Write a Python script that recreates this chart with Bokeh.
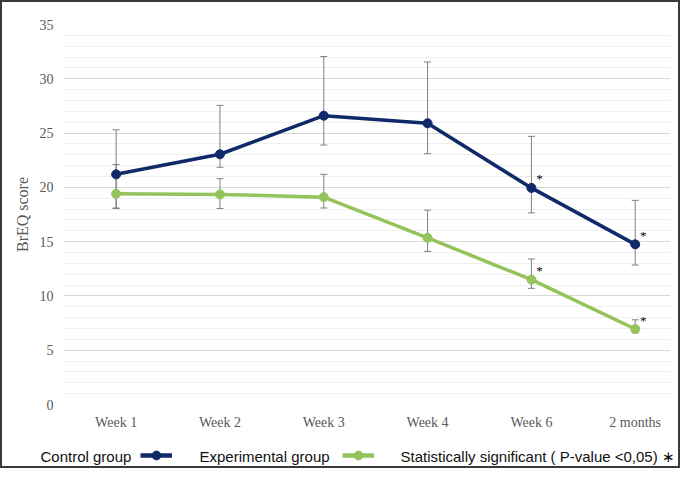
from bokeh.plotting import figure
from bokeh.layouts import column
from bokeh.models import (ColumnDataSource, Range1d, FixedTicker, SingleIntervalTicker,
                          Whisker, TeeHead, Label, Legend, LegendItem)
from bokeh.core.properties import value
from bokeh.embed import file_html
from bokeh.resources import INLINE

# ---- data ----
categories = ["Week 1", "Week 2", "Week 3", "Week 4", "Week 6", "2 months"]
control = [21.2, 23.05, 26.6, 25.9, 19.95, 14.75]
control_upper = [25.3, 27.55, 32.05, 31.55, 24.7, 18.8]
control_lower = [18.1, 21.85, 23.9, 23.1, 17.65, 12.85]
experimental = [19.4, 19.35, 19.1, 15.35, 11.5, 6.95]
experimental_upper = [22.1, 20.8, 21.2, 17.9, 13.4, 7.8]
experimental_lower = [18.05, 18.05, 18.1, 14.1, 10.7, 6.6]
significant = [False, False, False, False, True, True]
legend_labels = ["Control group", "Experimental group",
                 "Statistically significant ( P-value <0,05) \u2217"]

NAVY = "#102a69"
GREEN = "#94c35c"
GRAY = "#595959"
ERR = "#808080"
SERIF = "Liberation Serif"
SANS = "Liberation Sans"

xs = list(range(len(categories)))
ctrl_src = ColumnDataSource(dict(x=xs, y=control, upper=control_upper, lower=control_lower))
exp_src = ColumnDataSource(dict(x=xs, y=experimental, upper=experimental_upper, lower=experimental_lower))

star_x, star_y = [], []
for series in (control, experimental):
    for i, (v, s) in enumerate(zip(series, significant)):
        if s:
            star_x.append(i)
            star_y.append(v)
star_src = ColumnDataSource(dict(x=star_x, y=star_y, t=["*"] * len(star_x)))

# ---------------- main chart ----------------
p = figure(width=676, height=430, output_backend="svg", toolbar_location=None,
           x_range=Range1d(-0.507, 5.34), y_range=Range1d(0, 35),
           frame_width=607, frame_height=380,
           min_border_left=61, min_border_right=8, min_border_top=22, min_border_bottom=28)
p.frame_align = False
p.outline_line_color = None
p.background_fill_color = "white"
p.border_fill_color = "white"

p.xgrid.grid_line_color = None
p.ygrid.grid_line_color = "#d9d9d9"
p.ygrid.minor_grid_line_color = "#efefef"

p.yaxis.ticker = SingleIntervalTicker(interval=5, num_minor_ticks=5)
p.xaxis.ticker = FixedTicker(ticks=xs)
p.xaxis.major_label_overrides = {i: c for i, c in zip(xs, categories)}
for ax in (p.xaxis, p.yaxis):
    ax.axis_line_color = None
    ax.major_tick_line_color = None
    ax.minor_tick_line_color = None
    ax.major_tick_out = 0
    ax.minor_tick_out = 0
    ax.major_label_text_font = SERIF
    ax.major_label_text_font_size = "14px"
    ax.major_label_text_color = GRAY
    ax.major_label_standoff = 10
p.yaxis.axis_label = "BrEQ score"
p.yaxis.axis_label_text_font = SERIF
p.yaxis.axis_label_text_font_style = "normal"
p.yaxis.axis_label_text_font_size = "16px"
p.yaxis.axis_label_text_color = GRAY
p.yaxis.axis_label_standoff = 6

for src in (ctrl_src, exp_src):
    p.add_layout(Whisker(source=src, base="x", upper="upper", lower="lower",
                         line_color=ERR, line_width=1, level="underlay",
                         upper_head=TeeHead(size=7, line_color=ERR, line_width=1),
                         lower_head=TeeHead(size=7, line_color=ERR, line_width=1)))

p.line("x", "y", source=exp_src, line_color=GREEN, line_width=3.5)
p.scatter("x", "y", source=exp_src, size=9, fill_color=GREEN, line_color=GREEN)
p.line("x", "y", source=ctrl_src, line_color=NAVY, line_width=3.5)
p.scatter("x", "y", source=ctrl_src, size=9, fill_color=NAVY, line_color=NAVY)

p.text("x", "y", text="t", source=star_src, x_offset=8, y_offset=-9,
       text_align="center", text_baseline="middle", text_color="black",
       text_font=value(SERIF), text_font_size="13px")

# ---------------- legend strip (text followed by swatch) ----------------
lg = figure(width=676, height=34, output_backend="svg", toolbar_location=None,
            x_range=Range1d(0, 1), y_range=Range1d(0, 1),
            x_axis_type=None, y_axis_type=None,
            min_border_left=0, min_border_right=0, min_border_top=0, min_border_bottom=0)
lg.frame_align = False
lg.outline_line_color = None
lg.grid.visible = False
lg.background_fill_color = "white"
lg.border_fill_color = "white"

# swatch renderers (their points lie outside the strip's visible range)
sw_ctrl = [lg.line([5, 6], [5, 5], line_color=NAVY, line_width=4.5),
           lg.scatter([5], [5], size=9, fill_color=NAVY, line_color=NAVY)]
sw_exp = [lg.line([5, 6], [5, 5], line_color=GREEN, line_width=4.5),
          lg.scatter([5], [5], size=9, fill_color=GREEN, line_color=GREEN)]
legend = Legend(items=[LegendItem(label=" ", renderers=sw_ctrl),
                       LegendItem(label=" ", renderers=sw_exp)],
                orientation="horizontal", location=(138, 0),
                glyph_width=32, glyph_height=22, label_width=0, label_standoff=0,
                label_text_font_size="1px", spacing=170, padding=0, margin=0,
                border_line_color=None, background_fill_alpha=0)
lg.add_layout(legend, "center")

for t, lx in zip(legend_labels, [38, 197, 398]):
    lg.add_layout(Label(x=lx, y=10, x_units="screen", y_units="screen", text=t,
                        text_font=SANS, text_font_size="15px", text_color="#111111",
                        text_baseline="middle", text_align="left"))

page = column(p, lg, spacing=0, styles={"border": "2px solid #3a3a3a"})
open("out.html", "w").write(file_html(page, INLINE))
